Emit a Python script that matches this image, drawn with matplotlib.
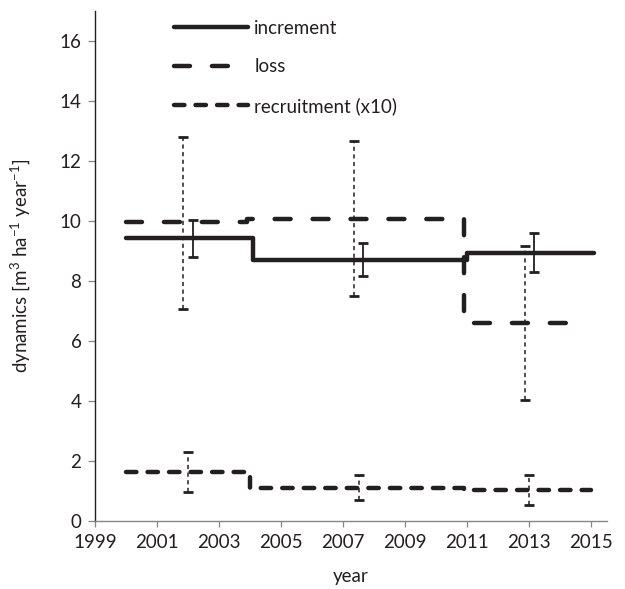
import numpy as np
import matplotlib
matplotlib.use("Agg")
import matplotlib.pyplot as plt

plt.rcParams['font.family'] = ['Lato', 'DejaVu Sans']
plt.rcParams['lines.scale_dashes'] = False
plt.rcParams['mathtext.fontset'] = 'custom'
plt.rcParams['mathtext.rm'] = 'Lato'

INK = '#231f20'
AXIS_GREY = '#868686'
FS = 13.5

# Period boundaries (years) and mean values of each series
inc_edges = [2000.0, 2004.1, 2011.0, 2015.1]
inc_vals = [9.42, 8.70, 8.94]
loss_edges = [2000.0, 2003.9, 2010.9, 2014.3]
loss_vals = [9.97, 10.08, 6.61]
rec_edges = [2000.0, 2004.0, 2010.9, 2015.0]
rec_vals = [1.64, 1.11, 1.03]

# Period midpoints and standard errors
err_years = [2002.0, 2007.5, 2013.0]
inc_err = [0.62, 0.55, 0.65]
loss_err_mid = [9.94, 10.08, 6.61]
loss_err = [2.87, 2.58, 2.57]
rec_err = [0.67, 0.41, 0.50]

x_ticks = [1999, 2001, 2003, 2005, 2007, 2009, 2011, 2013, 2015]
y_ticks = [0, 2, 4, 6, 8, 10, 12, 14, 16]


def step_xy(edges, vals):
    edges = np.asarray(edges, dtype=float)
    vals = np.asarray(vals, dtype=float)
    xs = np.repeat(edges, 2)[1:-1]
    ys = np.repeat(vals, 2)
    return xs, ys


fig = plt.figure(figsize=(6.25, 5.89), dpi=100)
ax = fig.add_axes([0.152, 0.1154, 0.819, 0.866])

lw = 3.2
x, y = step_xy(inc_edges, inc_vals)
ax.plot(x, y, color=INK, lw=lw, solid_capstyle='round', solid_joinstyle='round',
        label='increment', zorder=3)
x, y = step_xy(loss_edges, loss_vals)
ax.plot(x, y, color=INK, lw=lw, linestyle=(0, (11.5, 15.8)), dash_capstyle='round',
        dash_joinstyle='round', label='loss', zorder=3)
x, y = step_xy(rec_edges, rec_vals)
ax.plot(x, y, color=INK, lw=lw, linestyle=(0, (7.5, 8.0)), dash_capstyle='round',
        dash_joinstyle='round', label='recruitment (x10)', zorder=3)

# error bars: loss left, recruitment centred, increment right of the midpoint
ex = np.asarray(err_years)
eb = ax.errorbar(ex - 0.15, loss_err_mid, yerr=loss_err, fmt='none', ecolor=INK,
                 elinewidth=1.1, capsize=3.8, capthick=2.0, zorder=4)
eb[2][0].set_linestyle((0, (3.0, 2.5)))
eb = ax.errorbar(ex, rec_vals, yerr=rec_err, fmt='none', ecolor=INK,
                 elinewidth=1.1, capsize=3.8, capthick=2.0, zorder=4)
eb[2][0].set_linestyle((0, (3.0, 2.5)))
ax.errorbar(ex + 0.15, inc_vals, yerr=inc_err, fmt='none', ecolor=INK,
            elinewidth=1.3, capsize=3.8, capthick=2.0, zorder=4)

ax.set_xlim(1999, 2015.5)
ax.set_ylim(0, 17)
ax.set_xticks(x_ticks)
ax.set_yticks(y_ticks)
ax.tick_params(axis='both', labelsize=FS, colors=AXIS_GREY, labelcolor=INK)
ax.tick_params(axis='y', length=4.8, width=0.9, pad=5)
ax.tick_params(axis='x', length=4.5, width=0.9, pad=5)

for side in ('top', 'right'):
    ax.spines[side].set_visible(False)
ax.spines['left'].set_color(INK)
ax.spines['left'].set_linewidth(1.0)
ax.spines['bottom'].set_color(AXIS_GREY)
ax.spines['bottom'].set_linewidth(1.0)

ax.set_xlabel('year', fontsize=FS, color=INK, labelpad=12)
ax.set_ylabel(r'dynamics [m$^{3}$ ha$^{-1}$ year$^{-1}$]', fontsize=FS, color=INK,
              labelpad=19)

ax.legend(loc='upper left', bbox_to_anchor=(0.155, 0.983), frameon=False,
          fontsize=FS, handlelength=3.95, handletextpad=0.32, labelspacing=1.16,
          borderpad=0, borderaxespad=0, labelcolor=INK)

fig.savefig('out.png', dpi=100)
